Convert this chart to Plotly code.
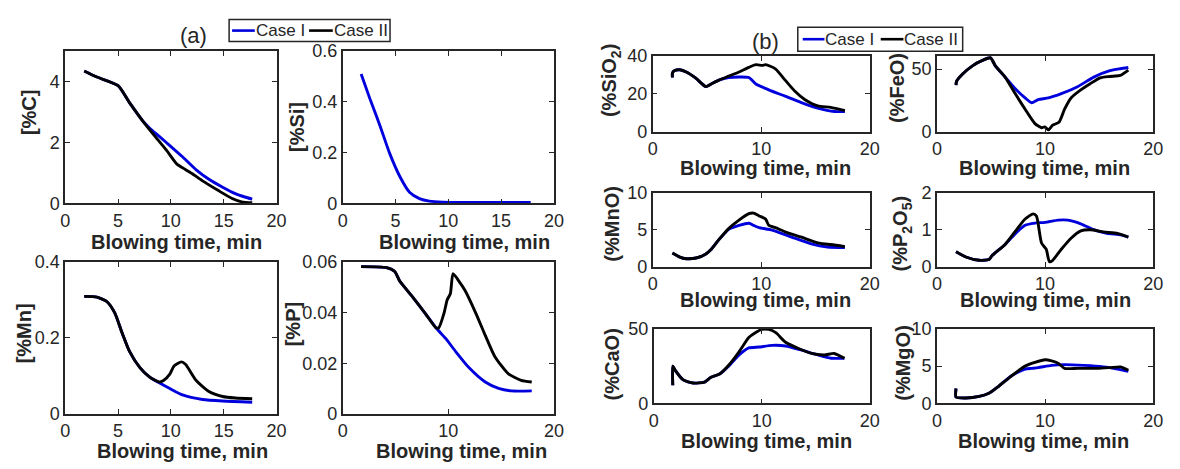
import plotly.graph_objects as go

W, H = 1180, 469
FONT = "Liberation Sans, Arial, sans-serif"
INK = "#262626"
BLUE = "#0000dd"
BLACK = "#000000"

# ---- hot metal composition, panel (a) ----
t_c1 = [1.8, 3.0, 5.0, 6.1, 7.4, 8.0, 8.9, 9.9, 11.1, 12.4, 13.6, 14.9, 16.1, 17.0, 17.7]
c_case1 = [4.35, 4.15, 3.87, 3.3, 2.68, 2.47, 2.2, 1.9, 1.53, 1.1, 0.79, 0.53, 0.32, 0.21, 0.14]
t_c2 = [1.8, 3.0, 5.0, 6.1, 7.4, 8.6, 9.6, 10.6, 11.2, 12.0, 13.0, 14.5, 15.8, 16.7, 17.7]
c_case2 = [4.35, 4.15, 3.87, 3.3, 2.68, 2.16, 1.74, 1.28, 1.15, 0.98, 0.74, 0.42, 0.16, 0.05, 0.02]

t_si = [1.75, 2.6, 3.5, 4.46, 5.4, 6.33, 7.27, 8.2, 9.5, 12.0, 15.0, 17.8]
si_case1 = [0.51, 0.41, 0.31, 0.196, 0.107, 0.044, 0.019, 0.009, 0.005, 0.004, 0.004, 0.004]

t_mn1 = [1.8, 3.0, 3.96, 4.7, 5.36, 6.1, 7.07, 8.0, 8.9, 9.9, 11.1, 13.0, 14.9, 17.7]
mn_case1 = [0.309, 0.307, 0.295, 0.265, 0.215, 0.164, 0.122, 0.097, 0.082, 0.067, 0.05, 0.038, 0.034, 0.031]
t_mn2 = [1.8, 3.0, 3.96, 4.7, 5.36, 6.1, 7.07, 8.0, 8.9, 9.3, 9.9, 10.3, 11.0, 11.4, 12.4, 13.6, 14.9, 16.1, 17.7]
mn_case2 = [0.309, 0.307, 0.295, 0.265, 0.215, 0.164, 0.122, 0.097, 0.084, 0.088, 0.105, 0.126, 0.137,
            0.13, 0.088, 0.059, 0.046, 0.042, 0.040]

t_p1 = [1.75, 4.15, 4.93, 5.4, 6.65, 7.9, 8.83, 9.77, 10.7, 11.95, 13.5, 14.76, 16.0, 17.9]
p_case1 = [0.0581, 0.0577, 0.0562, 0.0524, 0.046, 0.0392, 0.034, 0.0297, 0.0246, 0.0183, 0.0126,
           0.0101, 0.0091, 0.0091]
t_p2 = [1.75, 4.15, 4.93, 5.4, 6.65, 7.9, 8.83, 9.1, 9.6, 9.9, 10.2, 10.45, 11.0, 11.6, 12.6, 13.5,
        14.4, 15.7, 16.9, 17.9]
p_case2 = [0.0581, 0.0577, 0.0562, 0.0524, 0.046, 0.0392, 0.034, 0.034, 0.0398, 0.045, 0.0475, 0.0553,
           0.0524, 0.0486, 0.0398, 0.031, 0.0227, 0.0158, 0.0133, 0.0126]

# ---- slag composition, panel (b) ----
t_sio2_1 = [1.82, 1.82, 2.03, 2.5, 3.1, 4.0, 4.9, 5.4, 6.1, 7.0, 7.95, 8.86, 9.5, 10.7, 12.2, 13.7,
            15.2, 16.75, 17.7]
sio2_case1 = [28.6, 31.0, 32.3, 32.7, 31.5, 28.1, 23.8, 25.2, 27.2, 28.6, 28.9, 28.6, 25.2, 22.1, 18.7,
              15.3, 12.4, 10.6, 10.6]
t_sio2_2 = [1.82, 1.82, 2.03, 2.5, 3.1, 4.0, 4.9, 5.4, 6.1, 7.0, 7.95, 8.86, 9.5, 10.1, 10.4, 11.3,
            12.2, 13.1, 14.0, 15.2, 16.4, 17.7]
sio2_case2 = [28.6, 31.0, 32.3, 32.7, 31.5, 28.1, 23.8, 25.2, 27.2, 29.3, 31.5, 34.0, 35.4, 35.0, 35.4,
              33.2, 27.2, 21.3, 17.0, 13.6, 12.8, 11.1]

t_feo1 = [1.76, 1.8, 2.37, 3.28, 4.2, 4.95, 5.4, 6.3, 7.2, 8.15, 8.75, 9.36, 10.3, 11.5, 13.0, 14.5,
          16.0, 16.95, 17.7]
feo_case1 = [37.2, 40.0, 46.0, 52.6, 56.9, 59.0, 52.6, 43.6, 34.6, 26.9, 23.1, 25.6, 26.9, 30.3, 35.9,
             43.6, 48.7, 50.3, 51.3]
t_feo2 = [1.76, 1.8, 2.37, 3.28, 4.2, 4.95, 5.4, 6.3, 7.2, 8.15, 9.06, 9.67, 9.97, 10.3, 10.7, 11.3,
          11.8, 12.4, 13.3, 14.2, 15.1, 16.0, 16.95, 17.7]
feo_case2 = [37.2, 40.0, 46.0, 52.6, 56.9, 59.0, 52.6, 43.6, 30.8, 17.9, 6.4, 3.1, 3.8, 1.3, 5.1, 7.7,
             17.9, 26.9, 33.3, 38.5, 43.0, 44.1, 44.9, 49.2]

t_mno1 = [1.82, 2.5, 3.1, 4.0, 4.9, 5.4, 6.1, 7.0, 7.95, 8.86, 9.3, 9.8, 11.0, 12.8, 14.6, 16.1, 17.7]
mno_case1 = [1.85, 1.29, 1.07, 1.16, 1.72, 2.36, 3.65, 5.05, 5.58, 5.88, 5.58, 5.28, 4.94, 3.99, 3.09,
             2.66, 2.58]
t_mno2 = [1.82, 2.5, 3.1, 4.0, 4.9, 5.4, 6.1, 7.0, 7.95, 8.86, 9.3, 9.8, 10.4, 10.7, 11.3, 12.2, 13.7,
          15.2, 16.75, 17.7]
mno_case2 = [1.85, 1.29, 1.07, 1.16, 1.72, 2.36, 3.65, 5.15, 6.3, 7.17, 7.25, 6.87, 6.44, 5.58, 5.28,
             4.72, 3.99, 3.22, 2.92, 2.7]

t_p2o5_1 = [1.76, 2.67, 3.9, 4.8, 5.1, 6.3, 7.2, 8.15, 9.06, 10.0, 11.2, 12.1, 13.3, 14.5, 15.7, 17.0, 17.7]
p2o5_case1 = [0.40, 0.26, 0.17, 0.19, 0.30, 0.60, 0.88, 1.12, 1.18, 1.20, 1.26, 1.26, 1.16, 1.0, 0.9,
              0.86, 0.80]
t_p2o5_2 = [1.76, 2.67, 3.9, 4.8, 5.1, 6.3, 7.2, 8.15, 8.9, 9.2, 9.67, 10.1, 10.4, 10.7, 11.5, 12.4,
            13.3, 14.2, 15.4, 16.7, 17.7]
p2o5_case2 = [0.40, 0.26, 0.17, 0.19, 0.30, 0.60, 0.94, 1.29, 1.43, 1.37, 0.64, 0.47, 0.13, 0.17, 0.47,
              0.77, 0.97, 1.0, 0.94, 0.90, 0.80]

t_cao1 = [1.77, 1.77, 2.0, 2.74, 3.65, 4.7, 5.3, 6.1, 7.0, 7.9, 8.8, 9.74, 10.96, 12.2, 13.7, 15.2,
          16.4, 17.65]
cao_case1 = [12.2, 25.0, 22.2, 15.8, 13.7, 14.3, 17.5, 19.7, 25.5, 32.5, 37.2, 37.8, 38.9, 38.5, 35.7,
             32.5, 30.3, 30.3]
t_cao2 = [1.77, 1.77, 2.0, 2.74, 3.65, 4.7, 5.3, 6.1, 7.0, 7.9, 8.8, 9.4, 10.0, 10.65, 11.3, 12.2,
          13.4, 14.6, 15.8, 16.7, 17.65]
cao_case2 = [12.2, 25.0, 22.2, 15.8, 13.7, 14.3, 17.5, 19.7, 26.1, 34.6, 44.2, 47.4, 49.6, 49.6, 47.4,
             41.0, 36.8, 33.5, 32.5, 33.5, 30.3]

t_mgo1 = [1.76, 1.76, 2.67, 3.9, 4.8, 5.7, 6.9, 8.15, 8.75, 9.36, 10.6, 11.8, 13.6, 15.4, 16.7, 17.7]
mgo_case1 = [2.0, 0.85, 0.73, 0.94, 1.37, 2.3, 3.7, 4.6, 4.7, 4.8, 5.1, 5.2, 5.1, 4.9, 4.6, 4.3]
t_mgo2 = [1.76, 1.76, 2.67, 3.9, 4.8, 5.7, 6.9, 8.15, 9.06, 10.0, 10.6, 11.2, 11.8, 13.0, 14.8, 16.0,
          16.95, 17.7]
mgo_case2 = [2.0, 0.85, 0.73, 0.94, 1.37, 2.3, 3.7, 5.0, 5.5, 5.85, 5.7, 5.4, 4.7, 4.7, 4.7, 4.8, 4.9, 4.45]

X_LABEL = "Blowing time, min"
CASE_NAMES = ["Case I", "Case II"]

# panel layout: (y label, series, y range, y ticks, x ticks, axis box px, label positions)
panels = [
    dict(label="[%C]", s1=(t_c1, c_case1), s2=(t_c2, c_case2), yr=[0, 5], yt=[0, 2, 4],
         xt=[0, 5, 10, 15, 20], box=(61, 275, 43, 202), ylab=(25, 107), xlab=(174, 242)),
    dict(label="[%Si]", s1=(t_si, si_case1), s2=None, yr=[0, 0.6], yt=[0, 0.2, 0.4, 0.6],
         xt=[0, 5, 10, 15, 20], box=(342, 556, 43, 202), ylab=(296, 122), xlab=(465, 242)),
    dict(label="[%Mn]", s1=(t_mn1, mn_case1), s2=(t_mn2, mn_case2), yr=[0, 0.4], yt=[0, 0.2, 0.4],
         xt=[0, 5, 10, 15, 20], box=(61, 275, 263, 422), ylab=(19, 338), xlab=(180, 461)),
    dict(label="[%P]", s1=(t_p1, p_case1), s2=(t_p2, p_case2), yr=[0, 0.06], yt=[0, 0.02, 0.04, 0.06],
         xt=[0, 10, 20], box=(342, 556, 263, 422), ylab=(292, 328), xlab=(462, 461)),
    dict(label="(%SiO<sub>2</sub>)", s1=(t_sio2_1, sio2_case1), s2=(t_sio2_2, sio2_case2), yr=[0, 40],
         yt=[0, 20, 40], xt=[0, 10, 20], box=(656, 876, 48, 127), ylab=(614, 74), xlab=(770, 165)),
    dict(label="(%FeO)", s1=(t_feo1, feo_case1), s2=(t_feo2, feo_case2), yr=[0, 60.5], yt=[0, 50],
         xt=[0, 10, 20], box=(944, 1163, 48, 127), ylab=(903, 82), xlab=(1053, 165)),
    dict(label="(%MnO)", s1=(t_mno1, mno_case1), s2=(t_mno2, mno_case2), yr=[0, 10], yt=[0, 5, 10],
         xt=[0, 10, 20], box=(656, 876, 191, 268), ylab=(615, 223), xlab=(770, 303)),
    dict(label="(%P<sub>2</sub>O<sub>5</sub>)", s1=(t_p2o5_1, p2o5_case1), s2=(t_p2o5_2, p2o5_case2),
         yr=[0, 2], yt=[0, 1, 2], xt=[0, 10, 20], box=(944, 1163, 191, 268), ylab=(908, 233),
         xlab=(1054, 303)),
    dict(label="(%CaO)", s1=(t_cao1, cao_case1), s2=(t_cao2, cao_case2), yr=[0, 50], yt=[0, 50],
         xt=[0, 10, 20], box=(657, 876, 333, 411), ylab=(615, 370), xlab=(771, 450)),
    dict(label="(%MgO)", s1=(t_mgo1, mgo_case1), s2=(t_mgo2, mgo_case2), yr=[0, 10], yt=[0, 5, 10],
         xt=[0, 10, 20], box=(944, 1163, 333, 411), ylab=(910, 368), xlab=(1052, 450)),
]

fig = go.Figure()
annotations = []
shapes = []
layout_axes = {}
LINE_W = 2.9

for i, p in enumerate(panels, start=1):
    xa = "x" if i == 1 else f"x{i}"
    ya = "y" if i == 1 else f"y{i}"
    left, right, top, bottom = p["box"]
    line_style = dict(width=LINE_W, shape="spline", smoothing=0.6)
    fig.add_trace(go.Scatter(
        x=p["s1"][0], y=p["s1"][1], xaxis=xa, yaxis=ya, mode="lines",
        line=dict(color=BLUE, **line_style), name=CASE_NAMES[0], showlegend=False))
    if p["s2"] is not None:
        fig.add_trace(go.Scatter(
            x=p["s2"][0], y=p["s2"][1], xaxis=xa, yaxis=ya, mode="lines",
            line=dict(color=BLACK, **line_style), name=CASE_NAMES[1], showlegend=False))

    common = dict(showline=True, linecolor=INK, linewidth=1.6, mirror="ticks", ticks="inside",
                  ticklen=5, tickwidth=1.3, tickcolor=INK, showgrid=False, zeroline=False,
                  tickfont=dict(family=FONT, size=18, color=INK), fixedrange=True)
    layout_axes["xaxis" if i == 1 else f"xaxis{i}"] = dict(
        domain=[left / W, right / W], anchor=ya, range=[0, 20], tickvals=p["xt"],
        ticktext=[str(v) for v in p["xt"]], **common)
    layout_axes["yaxis" if i == 1 else f"yaxis{i}"] = dict(
        domain=[1 - bottom / H, 1 - top / H], anchor=xa, range=p["yr"], tickvals=p["yt"],
        ticktext=[f"{v:g}" for v in p["yt"]], **common)

    annotations.append(dict(
        text=f"<b>{p['label']}</b>", x=p["ylab"][0] / W, y=1 - p["ylab"][1] / H, xref="paper",
        yref="paper", textangle=-90, showarrow=False, xanchor="center", yanchor="middle",
        font=dict(family=FONT, size=20, color=INK)))
    annotations.append(dict(
        text=f"<b>{X_LABEL}</b>", x=p["xlab"][0] / W, y=1 - p["xlab"][1] / H, xref="paper",
        yref="paper", showarrow=False, xanchor="center", yanchor="middle",
        font=dict(family=FONT, size=20, color=INK)))

for txt, cx, cy in [("(a)", 191, 27), ("(b)", 770, 33)]:
    annotations.append(dict(text=txt, x=cx / W, y=1 - cy / H, xref="paper", yref="paper",
                            showarrow=False, xanchor="center", yanchor="middle",
                            font=dict(family=FONT, size=22, color=INK)))


def add_key(x0, x1, y0, y1, entries):
    """Boxed key: a sample stroke followed by its case name, laid out in a row."""
    shapes.append(dict(type="rect", xref="paper", yref="paper", x0=x0 / W, x1=x1 / W,
                       y0=1 - y1 / H, y1=1 - y0 / H, line=dict(color=INK, width=1.5),
                       fillcolor="white", layer="above"))
    ym = (y0 + y1) / 2
    for (lx0, lx1, color, name) in entries:
        shapes.append(dict(type="line", xref="paper", yref="paper", x0=lx0 / W, x1=lx1 / W,
                           y0=1 - ym / H, y1=1 - ym / H, line=dict(color=color, width=2.6),
                           layer="above"))
        annotations.append(dict(text=name, x=(lx1 + 1) / W, y=1 - ym / H, xref="paper",
                                yref="paper", showarrow=False, xanchor="left", yanchor="middle",
                                xshift=-2, font=dict(family=FONT, size=17, color=INK)))


add_key(227, 390, 10, 33, [(230, 253, BLUE, CASE_NAMES[0]), (308, 332, BLACK, CASE_NAMES[1])])
add_key(803, 970, 18, 43, [(808, 830, BLUE, CASE_NAMES[0]), (887, 910, BLACK, CASE_NAMES[1])])

fig.update_layout(
    width=W, height=H, margin=dict(l=0, r=0, t=0, b=0),
    paper_bgcolor="white", plot_bgcolor="white",
    annotations=annotations, shapes=shapes, showlegend=False,
    **layout_axes,
)

fig.write_html("out.html")
